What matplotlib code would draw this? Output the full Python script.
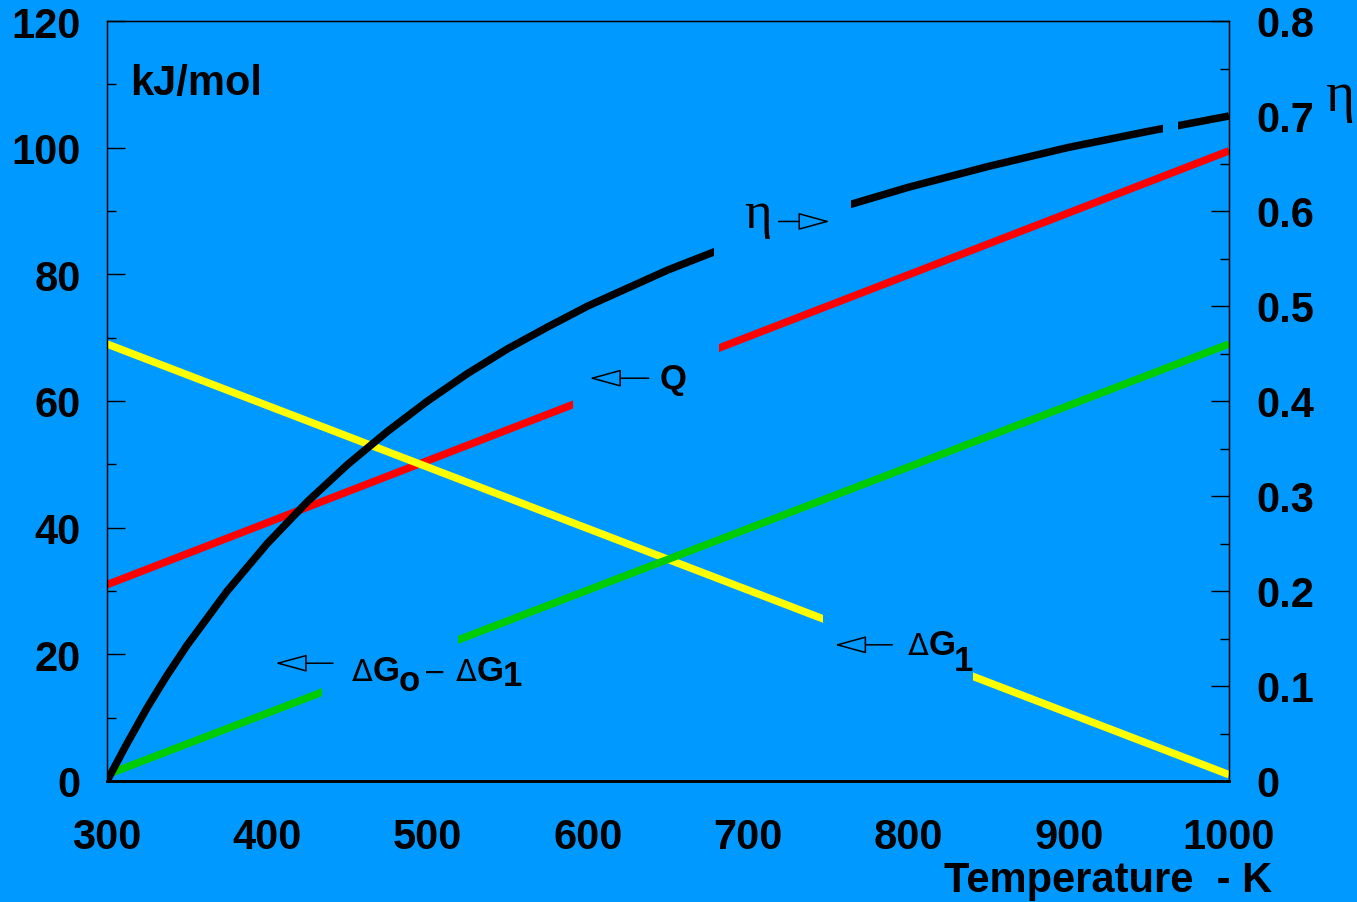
import numpy as np
import matplotlib
matplotlib.use("Agg")
import matplotlib.pyplot as plt
from matplotlib.patches import Rectangle
from matplotlib.ticker import MultipleLocator, FuncFormatter

# data
temp_lin = [300, 1000]
q_vals = [31, 99.5]          # Q, kJ/mol (red)
dg1_vals = [69, 1]           # dG1 (yellow)
dg01_vals = [1, 69]          # dG0 - dG1 (green)

temp_eta = [300, 312, 325, 337, 350, 375, 400, 425, 450, 475, 500, 525, 550, 575, 600,
            650, 700, 750, 800, 850, 900, 950, 1000]
eta_vals = [0.0, 0.038, 0.077, 0.11, 0.143, 0.20, 0.25, 0.294, 0.333, 0.368, 0.40, 0.429,
            0.455, 0.478, 0.50, 0.538, 0.571, 0.60, 0.625, 0.647, 0.667, 0.684, 0.70]

bg = '#0099ff'
plt.rcParams['font.family'] = ['Liberation Sans', 'DejaVu Sans']
plt.rcParams['font.weight'] = 'bold'

fig = plt.figure(figsize=(13.57, 9.03), dpi=100, facecolor=bg)
ax = fig.add_axes([107/1357, 121/903, 1122/1357, 760/903])
ax.set_facecolor(bg)
ax2 = ax.twinx()

ax.set_xlim(300, 1000)
ax.set_ylim(0, 120)
ax2.set_ylim(0, 0.8)

lw = 5.4
ax.plot(temp_lin, q_vals, color='#ff0000', lw=lw, solid_capstyle='butt', zorder=2)
ax.plot(temp_lin, dg1_vals, color='#ffff00', lw=lw, solid_capstyle='butt', zorder=2)
ax.plot(temp_lin, dg01_vals, color='#00cc00', lw=lw, solid_capstyle='butt', zorder=2)
ax2.plot(temp_eta, eta_vals, color='black', lw=lw, solid_capstyle='butt',
         solid_joinstyle='round', zorder=2)

# blank boxes that cut the lines around the labels
for (t0, t1), (y0, y1) in [((591, 682), (56, 71.5)), ((434, 519), (9, 27)), ((747, 840), (12, 30))]:
    ax.add_patch(Rectangle((t0, y0), t1 - t0, y1 - y0, fc=bg, ec='none', zorder=3))
for (t0, t1), (y0, y1) in [((679, 764), (0.53, 0.65)), ((959, 968), (0.675, 0.73))]:
    ax2.add_patch(Rectangle((t0, y0), t1 - t0, y1 - y0, fc=bg, ec='none', zorder=3))

# ticks
ax.set_xticks(range(300, 1001, 100))
ax.tick_params(axis='x', length=0, pad=26, labelsize=30)
ax.yaxis.set_major_locator(MultipleLocator(20))
ax.yaxis.set_minor_locator(MultipleLocator(10))
ax.tick_params(axis='y', which='major', direction='in', length=13, width=1, pad=19, labelsize=30)
ax.tick_params(axis='y', which='minor', direction='in', length=6.5, width=1)
ax2.yaxis.set_major_locator(MultipleLocator(0.1))
ax2.yaxis.set_minor_locator(MultipleLocator(0.05))
ax2.yaxis.set_major_formatter(FuncFormatter(lambda v, p: '0' if abs(v) < 1e-9 else f'{v:.1f}'))
ax2.tick_params(axis='y', which='major', direction='in', length=13, width=1, pad=20, labelsize=30)
ax2.tick_params(axis='y', which='minor', direction='in', length=6.5, width=1)
for a in (ax, ax2):
    for s in ('left', 'right', 'top'):
        a.spines[s].set_linewidth(0.9)
    a.spines['bottom'].set_linewidth(1.8)

fig.text(130/1357, (903-95)/903, 'kJ/mol', fontsize=30, fontweight='bold', va='baseline')
fig.text(1272/1357, 11/903, 'Temperature  - K', fontsize=30, fontweight='bold', ha='right', va='baseline')
fig.text(1325/1357, (903-97)/903, 'η', fontsize=40, family='Liberation Serif', fontweight='normal', va='center')

arrow = dict(arrowstyle='-|>,head_length=2.0,head_width=0.55', mutation_scale=10,
             fc=bg, ec='black', lw=1.1, shrinkA=0, shrinkB=0)

# eta label
ax2.text(706, 0.597, 'η', fontsize=38, family='Liberation Serif', fontweight='normal',
         ha='center', va='center', zorder=5)
ax2.annotate('', xy=(751, 0.589), xytext=(719, 0.589), arrowprops=arrow, zorder=5)

# Q label
ax.annotate('', xy=(601, 63.6), xytext=(638, 63.6), arrowprops=arrow, zorder=5)
ax.text(645, 63.6, 'Q', fontsize=25, fontweight='bold', va='center', zorder=5)


def piece(x, y, s, w='bold', size=25, fam=None):
    kw = dict(fontsize=size, fontweight=w, va='baseline', zorder=5)
    if fam:
        kw['family'] = fam
    return ax.text(x, y, s, **kw)


# dG1 label
ax.annotate('', xy=(754, 21.5), xytext=(790, 21.5), arrowprops=arrow, zorder=5)
piece(799.5, 20.0, 'Δ', 'normal', 22, 'DejaVu Sans')
piece(812.5, 20.0, 'G')
piece(828.5, 17.6, '1')

# dG0 - dG1 label
ax.annotate('', xy=(405, 18.6), xytext=(441, 18.6), arrowprops=arrow, zorder=5)
piece(452.5, 15.9, 'Δ', 'normal', 22, 'DejaVu Sans')
piece(465.5, 15.9, 'G')
piece(482, 14.3, 'o')
piece(497, 15.9, '−', 'normal', 20, 'DejaVu Sans')
piece(517.5, 15.9, 'Δ', 'normal', 22, 'DejaVu Sans')
piece(530.5, 15.9, 'G')
piece(547, 15.2, '1')

fig.savefig('out.png', dpi=100, facecolor=bg)
